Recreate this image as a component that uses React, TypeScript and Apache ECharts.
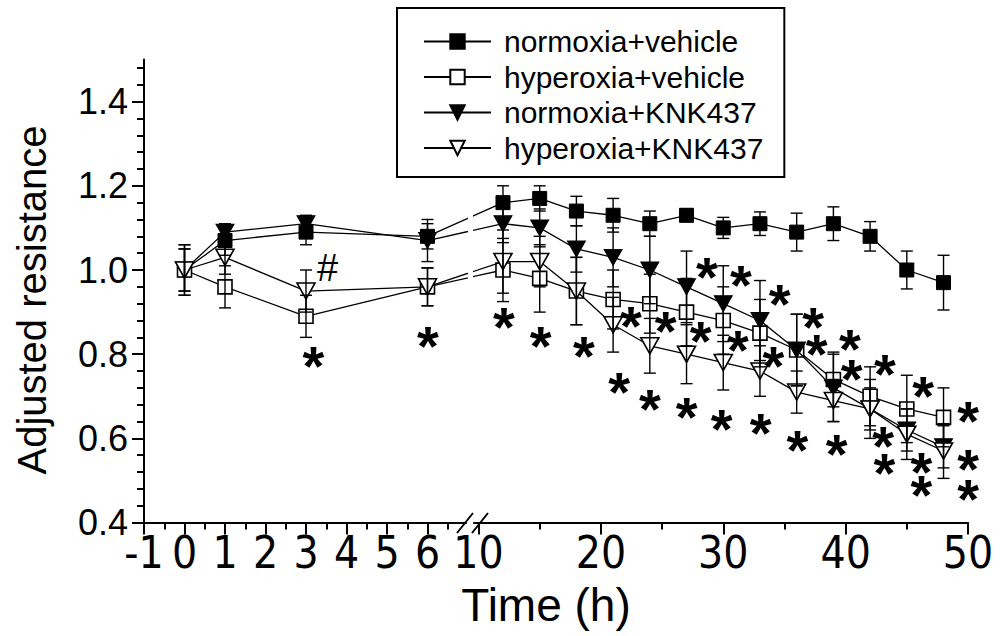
import React, { useEffect, useRef } from 'react';
import * as echarts from 'echarts';

// ---------- data ----------
const SERIES_NAMES = ['normoxia+vehicle', 'hyperoxia+vehicle', 'normoxia+KNK437', 'hyperoxia+KNK437'];
const TIME_EARLY = [0, 1, 3, 6];
const TIME_LATE = [12, 15, 18, 21, 24, 27, 30, 33, 36, 39, 42, 45, 48];

const NV_EARLY = [1.0, 1.07, 1.09, 1.08];
const NV_LATE = [1.16, 1.17, 1.14, 1.13, 1.11, 1.13, 1.1, 1.11, 1.09, 1.11, 1.08, 1.0, 0.97];
const NV_ERR_EARLY = [0.05, 0.035, 0.03, 0.03];
const NV_ERR_LATE = [0.04, 0.03, 0.035, 0.04, 0.03, 0.015, 0.025, 0.028, 0.045, 0.04, 0.035, 0.045, 0.065];

const HV_EARLY = [1.0, 0.96, 0.89, 0.96];
const HV_LATE = [1.0, 0.98, 0.95, 0.93, 0.92, 0.9, 0.88, 0.85, 0.81, 0.74, 0.7, 0.67, 0.65];
const HV_ERR_EARLY = [0.05, 0.05, 0.05, 0.045];
const HV_ERR_LATE = [0.075, 0.08, 0.08, 0.07, 0.07, 0.08, 0.08, 0.08, 0.085, 0.065, 0.07, 0.08, 0.07];

const NK_EARLY = [1.0, 1.09, 1.11, 1.07];
const NK_LATE = [1.11, 1.1, 1.05, 1.03, 1.0, 0.96, 0.92, 0.88, 0.81, 0.72, 0.67, 0.62, 0.58];
const NK_ERR_EARLY = [0.06, 0.02, 0.02, 0.05];
const NK_ERR_LATE = [0.045, 0.045, 0.055, 0.07, 0.08, 0.085, 0.09, 0.095, 0.085, 0.08, 0.07, 0.05, 0.05];

const HK_EARLY = [1.0, 1.03, 0.95, 0.96];
const HK_LATE = [1.02, 1.02, 0.95, 0.87, 0.82, 0.8, 0.78, 0.76, 0.71, 0.69, 0.67, 0.61, 0.57];
const HK_ERR_EARLY = [0.06, 0.04, 0.05, 0.045];
const HK_ERR_LATE = [0.075, 0.06, 0.08, 0.065, 0.065, 0.07, 0.065, 0.06, 0.05, 0.05, 0.05, 0.06, 0.065];

// significance marks, in data coordinates [time, value]
const STAR_EARLY = [[3.18, 0.806], [6.01, 0.853]];
const HASH_EARLY = [[3.53, 1.004]];
const STAR_LATE = [
  [12.08, 0.898], [15.08, 0.853], [18.62, 0.829], [21.5, 0.743], [22.46, 0.9], [25.3, 0.889],
  [28.15, 0.865], [31.2, 0.842], [34.1, 0.806], [28.67, 1.016], [31.45, 0.998], [34.6, 0.952],
  [37.35, 0.897], [37.63, 0.834], [40.35, 0.846], [40.49, 0.774], [43.21, 0.786], [46.34, 0.735],
  [50.02, 0.675], [24.01, 0.703], [27.01, 0.685], [29.87, 0.656], [33.06, 0.646], [36.05, 0.606],
  [39.27, 0.596], [43.07, 0.616], [43.17, 0.55], [46.2, 0.553], [46.2, 0.499], [50.02, 0.561],
  [50.02, 0.489],
];

// axis ticks
const Y_TICKS = [0.4, 0.6, 0.8, 1.0, 1.2, 1.4];
const Y_MINOR_TICKS = [0.44, 0.48, 0.52, 0.56, 0.64, 0.68, 0.72, 0.76, 0.84, 0.88, 0.92, 0.96, 1.04, 1.08, 1.12, 1.16, 1.24, 1.28, 1.32, 1.36, 1.44, 1.48];
const X_EARLY_TICKS = [-1, 0, 1, 2, 3, 4, 5, 6];
const X_EARLY_MINOR = [-0.5, 0.5, 1.5, 2.5, 3.5, 4.5, 5.5, 6.5];
const X_LATE_TICKS = [10, 20, 30, 40, 50];
const X_LATE_MINOR = [15, 25, 35, 45];

// ---------- layout ----------
const FONT = 'Liberation Sans';
const NARROW = '"Liberation Sans Narrow", "DejaVu Sans Condensed", "Liberation Sans"';
const TOP = 59.5;
const HEIGHT = 463.1;
const Y_MIN = 0.4;
const Y_MAX = 1.5;
const LEFT_X0 = 144; // pixel of t = -1
const LEFT_PX = 40.5; // pixels per hour, early segment
const LEFT_END = 466;
const RIGHT_START = 474;
const RIGHT_X10 = 478.5; // pixel of t = 10
const RIGHT_END = 968; // pixel of t = 50
const RIGHT_PX = (RIGHT_END - RIGHT_X10) / 40;
const LEFT_MAX = -1 + (LEFT_END - LEFT_X0) / LEFT_PX;
const RIGHT_MIN = 10 - (RIGHT_X10 - RIGHT_START) / RIGHT_PX;

// map a time of one segment into the other segment's axis units (for the line across the break)
const earlyToLate = (t: number) => 10 + (LEFT_X0 + (t + 1) * LEFT_PX - RIGHT_X10) / RIGHT_PX;
const lateToEarly = (t: number) => -1 + (RIGHT_X10 + (t - 10) * RIGHT_PX - LEFT_X0) / LEFT_PX;

const TRI_DOWN = 'path://M0,0L20,0L10,18Z';
const STYLE = [
  { symbol: 'rect', size: 14, fill: '#000' },
  { symbol: 'rect', size: 14, fill: '#fff' },
  { symbol: TRI_DOWN, size: [18, 16], fill: '#000' },
  { symbol: TRI_DOWN, size: [18, 16], fill: '#fff' },
];

const EARLY = [NV_EARLY, HV_EARLY, NK_EARLY, HK_EARLY];
const LATE = [NV_LATE, HV_LATE, NK_LATE, HK_LATE];
const ERR_EARLY = [NV_ERR_EARLY, HV_ERR_EARLY, NK_ERR_EARLY, HK_ERR_EARLY];
const ERR_LATE = [NV_ERR_LATE, HV_ERR_LATE, NK_ERR_LATE, HK_ERR_LATE];

function majorX(gridIndex: number, min: number, max: number, ticks: number[]) {
  return {
    type: 'value', gridIndex, min, max, position: 'bottom',
    axisLine: { show: true, onZero: false, lineStyle: { color: '#000', width: 2 } },
    axisTick: { show: true, inside: false, length: 12, customValues: ticks, lineStyle: { color: '#000', width: 2 } },
    axisLabel: { show: true, customValues: ticks, margin: 8, fontSize: 44, color: '#000', fontFamily: NARROW },
    splitLine: { show: false },
  };
}
function minorX(gridIndex: number, min: number, max: number, ticks: number[]) {
  return {
    type: 'value', gridIndex, min, max, position: 'bottom',
    axisLine: { show: false, onZero: false },
    axisTick: { show: true, inside: false, length: 7, customValues: ticks, lineStyle: { color: '#000', width: 2 } },
    axisLabel: { show: false, customValues: ticks },
    splitLine: { show: false },
  };
}

function errorRender(params: any, api: any) {
  const t = api.value(0);
  const v = api.value(1);
  const e = api.value(2);
  const top = api.coord([t, v + e]);
  const bot = api.coord([t, v - e]);
  const hw = 6;
  const st = { stroke: '#000', lineWidth: 1.4 };
  return {
    type: 'group',
    children: [
      { type: 'line', shape: { x1: top[0], y1: top[1], x2: bot[0], y2: bot[1] }, style: st },
      { type: 'line', shape: { x1: top[0] - hw, y1: top[1], x2: top[0] + hw, y2: top[1] }, style: st },
      { type: 'line', shape: { x1: bot[0] - hw, y1: bot[1], x2: bot[0] + hw, y2: bot[1] }, style: st },
    ],
  };
}

function markRender(text: string, size: number, weight: string, shift: number) {
  return (params: any, api: any) => {
    const p = api.coord([api.value(0), api.value(1)]);
    return {
      type: 'text',
      x: p[0],
      y: p[1] + shift * size,
      style: { text, fontSize: size, fontFamily: FONT, fontWeight: weight, fill: '#000', align: 'center', verticalAlign: 'middle' },
    };
  };
}

function buildOption() {
  const series: any[] = [];
  SERIES_NAMES.forEach((name, i) => {
    const s = STYLE[i];
    const common = {
      type: 'line', name, symbol: s.symbol, symbolSize: s.size, clip: true, z: 3 + i,
      itemStyle: { color: s.fill, borderColor: '#000', borderWidth: s.fill === '#fff' ? 1.6 : 1 },
      lineStyle: { color: '#000', width: 1.3 },
      emphasis: { disabled: true }, silent: true,
    };
    const early = TIME_EARLY.map((t, k) => [t, EARLY[i][k]]);
    early.push([lateToEarly(TIME_LATE[0]), LATE[i][0]]);
    const late = TIME_LATE.map((t, k) => [t, LATE[i][k]]);
    late.unshift([earlyToLate(TIME_EARLY[TIME_EARLY.length - 1]), EARLY[i][EARLY[i].length - 1]]);
    series.push({ ...common, xAxisIndex: 0, yAxisIndex: 0, data: early });
    series.push({ ...common, xAxisIndex: 1, yAxisIndex: 1, data: late });
  });
  SERIES_NAMES.forEach((name, i) => {
    series.push({
      type: 'custom', xAxisIndex: 0, yAxisIndex: 0, z: 8, silent: true, renderItem: errorRender,
      data: TIME_EARLY.map((t, k) => [t, EARLY[i][k], ERR_EARLY[i][k]]),
    });
    series.push({
      type: 'custom', xAxisIndex: 1, yAxisIndex: 1, z: 8, silent: true, renderItem: errorRender,
      data: TIME_LATE.map((t, k) => [t, LATE[i][k], ERR_LATE[i][k]]),
    });
  });
  series.push({ type: 'custom', xAxisIndex: 0, yAxisIndex: 0, z: 9, silent: true, renderItem: markRender('*', 56, 'bold', 0.24), data: STAR_EARLY });
  series.push({ type: 'custom', xAxisIndex: 0, yAxisIndex: 0, z: 9, silent: true, renderItem: markRender('#', 38, 'normal', 0), data: HASH_EARLY });
  series.push({ type: 'custom', xAxisIndex: 1, yAxisIndex: 1, z: 9, silent: true, renderItem: markRender('*', 56, 'bold', 0.24), data: STAR_LATE });

  const gridBase = { top: TOP, height: HEIGHT, containLabel: false, outerBoundsMode: 'none' };
  return {
    animation: false,
    backgroundColor: '#fff',
    textStyle: { fontFamily: FONT },
    grid: [
      { ...gridBase, left: LEFT_X0, width: LEFT_END - LEFT_X0 },
      { ...gridBase, left: RIGHT_START, width: RIGHT_END - RIGHT_START },
      { ...gridBase, left: LEFT_X0, width: LEFT_END - LEFT_X0 },
      { ...gridBase, left: RIGHT_START, width: RIGHT_END - RIGHT_START },
    ],
    xAxis: [
      majorX(0, -1, LEFT_MAX, X_EARLY_TICKS),
      majorX(1, RIGHT_MIN, 50, X_LATE_TICKS),
      minorX(2, -1, LEFT_MAX, X_EARLY_MINOR),
      minorX(3, RIGHT_MIN, 50, X_LATE_MINOR),
    ],
    yAxis: [
      {
        type: 'value', gridIndex: 0, min: Y_MIN, max: Y_MAX, position: 'left',
        axisLine: { show: true, onZero: false, lineStyle: { color: '#000', width: 2 } },
        axisTick: { show: true, inside: false, length: 12, customValues: Y_TICKS, lineStyle: { color: '#000', width: 2 } },
        axisLabel: { show: true, customValues: Y_TICKS, margin: 16, fontSize: 36, color: '#000', fontFamily: FONT, formatter: (v: number) => v.toFixed(1) },
        splitLine: { show: false },
      },
      { type: 'value', gridIndex: 1, min: Y_MIN, max: Y_MAX, show: false, splitLine: { show: false } },
      {
        type: 'value', gridIndex: 2, min: Y_MIN, max: Y_MAX, position: 'left',
        axisLine: { show: false, onZero: false },
        axisTick: { show: true, inside: false, length: 7, customValues: Y_MINOR_TICKS, lineStyle: { color: '#000', width: 2 } },
        axisLabel: { show: false, customValues: Y_MINOR_TICKS },
        splitLine: { show: false },
      },
      { type: 'value', gridIndex: 3, min: Y_MIN, max: Y_MAX, show: false, splitLine: { show: false } },
    ],
    legend: {
      show: true, orient: 'vertical', left: 397, top: 8, data: SERIES_NAMES,
      itemWidth: 67, itemHeight: 18, itemGap: 5.5, padding: [18.5, 21, 14, 26],
      borderColor: '#000', borderWidth: 2, backgroundColor: '#fff', selectedMode: false,
      textStyle: { fontSize: 30, color: '#000', fontFamily: FONT, lineHeight: 30, padding: [0, 0, 0, 8] },
    },
    graphic: [
      { type: 'text', x: 546, y: 605, z: 20, style: { text: 'Time (h)', fontSize: 46, fontFamily: FONT, fill: '#000', align: 'center', verticalAlign: 'middle' } },
      { type: 'text', x: 32, y: 300, rotation: Math.PI / 2, z: 20, style: { text: 'Adjusted resistance', fontSize: 40, fontFamily: FONT, fill: '#000', align: 'center', verticalAlign: 'middle' } },
      { type: 'line', z: 20, shape: { x1: 457, y1: 533, x2: 473, y2: 513 }, style: { stroke: '#000', lineWidth: 2 } },
      { type: 'line', z: 20, shape: { x1: 472, y1: 533, x2: 488, y2: 513 }, style: { stroke: '#000', lineWidth: 2 } },
    ],
    series,
  };
}

export default function App() {
  const ref = useRef<HTMLDivElement>(null);
  useEffect(() => {
    if (!ref.current) return;
    const chart = echarts.init(ref.current, null, { renderer: 'svg', width: 1003, height: 636 });
    chart.setOption(buildOption() as any);
    return () => chart.dispose();
  }, []);
  return <div ref={ref} style={{ position: 'absolute', left: 0, top: 0, width: 1003, height: 636 }} />;
}
